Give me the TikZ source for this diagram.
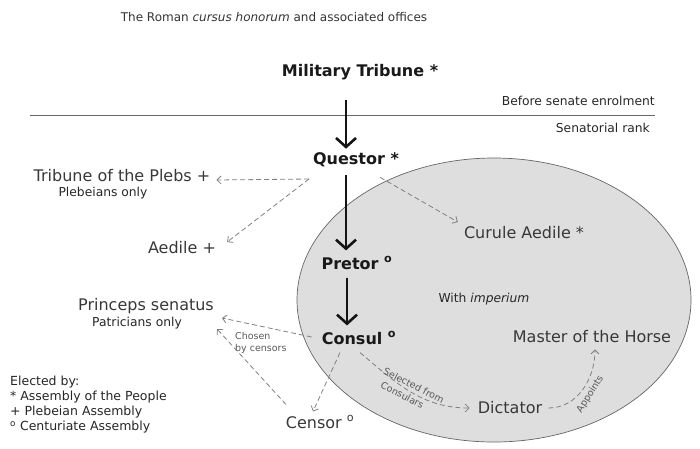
\documentclass[tikz,border=0pt]{standalone}
\usepackage{fontspec}
\setmainfont{DejaVu Sans}
\usetikzlibrary{arrows.meta, positioning}

\tikzset{
  office/.style={font=\fontsize{16}{19}\selectfont, text=black!78, inner sep=2pt},
  rank/.style={font=\bfseries\fontsize{16}{19}\selectfont, text=black!90, inner sep=2pt},
  note/.style={font=\fontsize{12.3}{14}\selectfont, text=black!85, inner sep=1pt},
  remark/.style={font=\fontsize{9.5}{12}\selectfont, text=black!65, inner sep=1pt},
  dasharrow/.style={draw=black!50, line width=0.8pt, dash pattern=on 5pt off 3pt, -{Straight Barb[length=4pt,width=8pt]}},
  bigarrow/.style={draw=black!92, line width=2.6pt, -{Straight Barb[length=9pt,width=20pt]}}
}

\begin{document}
\begin{tikzpicture}[x=1pt,y=-1pt]
\useasboundingbox (0,0) rectangle (700,448);
\draw [draw=black!60, fill=black!13, line width=0.7pt] (494,300) ellipse [x radius=197, y radius=142];
\draw [black!60, line width=0.7pt] (30,115) -- (655,115);
\node [font=\fontsize{12}{14}\selectfont, text=black!80] (title) at (274,17) {The Roman \emph{cursus honorum} and associated offices};
\node [note, anchor=east] (before) at (656,101) {Before senate enrolment};
\node [note, anchor=east] (senrank) at (651,128) {Senatorial rank};
% offices of the cursus
\node [rank] (military) at (360,72) {Military Tribune *};
\node [rank] (questor) at (356,160) {Questor *};
\node [rank] (pretor) at (357,263) {Pretor \textsuperscript{o}};
\node [rank] (consul) at (359,338) {Consul \textsuperscript{o}};
\draw [bigarrow] ([xshift=-14pt, yshift=-18pt]military.south) -- ([xshift=-10pt, yshift=2pt]questor.north);
\draw [bigarrow] ([xshift=-10pt, yshift=-6pt]questor.south) -- ([xshift=-11pt, yshift=4pt]pretor.north);
\draw [bigarrow] ([xshift=-10pt, yshift=-6pt]pretor.south) -- ([xshift=-12pt, yshift=4pt]consul.north);
% other offices
\node [office] (plebs) at (122,176) {Tribune of the Plebs +};
\node [note] (plebsnote) at (103,193) {Plebeians only};
\node [office] (aedile) at (182,248) {Aedile +};
\node [office] (curule) at (524,233) {Curule Aedile *};
\node [note] (imperium) at (484,299) {With \emph{imperium}};
\node [office] (princeps) at (146,306) {Princeps senatus};
\node [note] (princepsnote) at (137,323) {Patricians only};
\node [remark, anchor=west, align=left] (chosen) at (234,343) {Chosen\\by censors};
\node [office] (master) at (592,337) {Master of the Horse};
\node [office] (dictator) at (510,408) {Dictator};
\node [office] (censor) at (320,422) {Censor \textsuperscript{o}};
\node [font=\fontsize{12.5}{15}\selectfont, text=black!85, anchor=north west, align=left, inner sep=0pt] (legend) at (10,376) {Elected by:\\* Assembly of the People\\+ Plebeian Assembly\\\textsuperscript{o} Centuriate Assembly};
% dashed links
\coordinate (qfork) at (309,179);
\draw [dasharrow] (qfork) -- ([shift={(4,4)}]plebs.east);
\draw [dasharrow] (qfork) -- ([shift={(9,-6)}]aedile.east);
\draw [dasharrow] ([shift={(24,8)}]questor.south) -- ([shift={(-4,-11)}]curule.west);
\draw [dasharrow] ([shift={(-8,-1)}]consul.west) -- ([shift={(6,12)}]princeps.east);
\draw [dasharrow] ([shift={(-34,-9)}]censor.north) -- ([shift={(1,23)}]princeps.east);
\draw [dasharrow] ([shift={(-19,6)}]consul.south) -- ([shift={(-7,-2)}]censor.north);
\draw [dasharrow] ([shift={(1,6)}]consul.south) to [out=-40, in=180]
  node [remark, rotate=-27, anchor=south, pos=.5, inner sep=3pt] {Selected from}
  node [remark, rotate=-27, anchor=north, pos=.45, inner sep=3pt] {Consulars} ([xshift=-6pt]dictator.west);
\draw [dasharrow] ([xshift=4pt]dictator.east) to [out=0, in=-90]
  node [remark, rotate=58, anchor=north, pos=.5, inner sep=4pt] {Appoints} ([xshift=3pt, yshift=-4pt]master.south);
\end{tikzpicture}
\end{document}
